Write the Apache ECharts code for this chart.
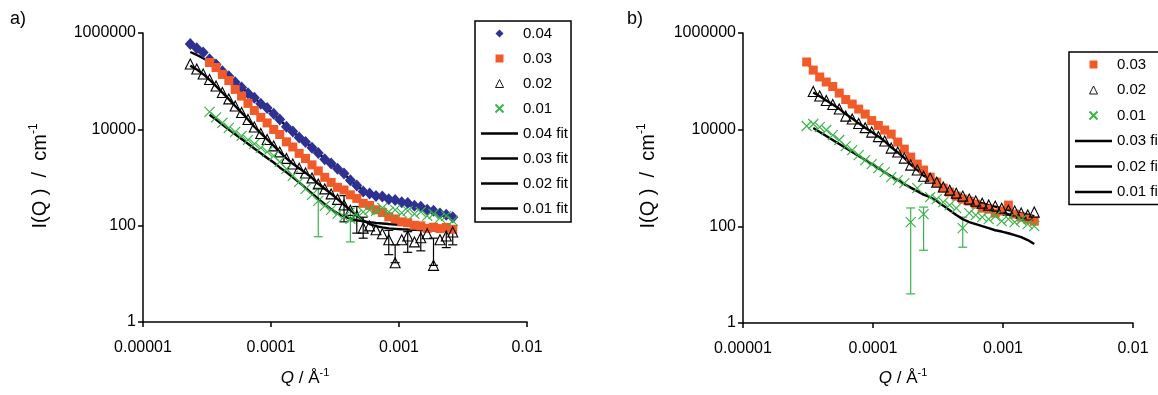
<!DOCTYPE html>
<html><head><meta charset="utf-8">
<script src="https://cdn.jsdelivr.net/npm/echarts@6/dist/echarts.min.js"></script>
<style>html,body{margin:0;padding:0;background:#fff}#c{width:1158px;height:395px}</style>
</head><body><div id="c"></div>
<script>
// ---------- DATA ----------
const xTickLabels = ['0.00001', '0.0001', '0.001', '0.01'];
const yTickLabels = ['1', '', '100', '', '10000', '', '1000000'];

// panel a Q grid
const qA = [2.34e-5,2.63e-5,2.95e-5,3.31e-5,3.72e-5,4.17e-5,4.68e-5,5.25e-5,5.89e-5,6.61e-5,7.41e-5,8.32e-5,9.33e-5,1.05e-4,1.17e-4,1.32e-4,1.48e-4,1.66e-4,1.86e-4,2.09e-4,2.34e-4,2.63e-4,2.95e-4,3.31e-4,3.72e-4,4.17e-4,4.68e-4,5.25e-4,5.89e-4,6.61e-4,7.41e-4,8.32e-4,9.33e-4,1.05e-3,1.17e-3,1.32e-3,1.48e-3,1.66e-3,1.86e-3,2.09e-3,2.34e-3,2.63e-3];
const a04 = [592000,480000,392000,285000,221000,160000,127000,94500,73500,56000,45500,33800,27600,21000,16000,11300,9000,6800,5450,4150,3220,2390,1950,1520,1210,875,685,515,468,412,404,352,342,305,296,258,246,213,203,178,168,149];
const a03 = [244000,192000,138000,103000,67500,49000,34600,24600,17700,13600,9950,7800,5500,4300,3170,2480,1830,1370,1010,790,625,550,437,368,291,263,214,188,153,138,120,115,102,99,88,93,87,92,84];
const a02 = [228000,179000,141000,108000,79400,58300,42800,30600,22400,16000,11200,8220,6170,4530,3400,2490,1910,1550,1240,982,736,580,457,352,270,208,160,89,99,82,68,51,17,51,61,46,56,68,15,51,61,74];
const a01 = [23000,17700,13600,10700,8830,7300,6030,4980,4110,3400,2810,2110,1510,1080,811,580,436,327,258,213,176,152,138,167,193,213,203,234,193,213,184,203,176,193,160,176,145,160,126];
const a04fit = [403000,350000,300000,255000,210000,165000,127000,97000,73000,57000,44500,34500,27000,21000,15800,11700,8900,6900,5350,4200,3200,2450,1920,1520,1180,900,680,535,450,410,385,355,330,305,285,262,240,218,200,182,166,152];
const a03fit = [230000,180000,138000,100000,70000,49000,35000,24500,18000,13300,10000,7600,5600,4200,3220,2430,1860,1360,1030,780,640,540,445,362,298,258,220,186,158,137,124,113,105,98,93,91,90,89,88];
const a02fit = [210000,175000,140000,107000,79000,58000,42500,30500,22200,16000,11300,8300,6200,4550,3400,2500,1920,1550,1250,985,740,585,460,355,272,210,162,128,108,98,92,88,86,84,83,82,81,80,80,79,79,78];
const a01fit = [20000,16000,12500,9900,7900,6300,5000,4000,3200,2550,2050,1620,1280,1010,790,610,470,360,280,220,180,155,140,130,123,118,114,111,108,106,104,102,100,99,98,97,96,95,94];
// error bars: [Q, low, high]
const aErr02 = [[3.72e-4,120,420],[4.68e-4,70,250],[5.25e-4,55,150],[8.32e-4,25,80],[9.33e-4,17,40],[1.17e-3,28,75],[1.48e-3,30,80],[1.86e-3,15,55],[2.34e-3,35,90],[2.63e-3,40,100]];
const aErr01 = [[2.34e-4,59,600],[4.17e-4,46,230]];

// panel b Q grid
const qB = [3.09e-5,3.47e-5,3.89e-5,4.37e-5,4.90e-5,5.50e-5,6.17e-5,6.92e-5,7.76e-5,8.71e-5,9.77e-5,1.10e-4,1.23e-4,1.38e-4,1.55e-4,1.74e-4,1.95e-4,2.19e-4,2.45e-4,2.75e-4,3.09e-4,3.47e-4,3.89e-4,4.37e-4,4.90e-4,5.50e-4,6.17e-4,6.92e-4,7.76e-4,8.71e-4,9.77e-4,1.10e-3,1.23e-3,1.38e-3,1.55e-3,1.74e-3];
const b03 = [251000,171000,123000,96800,78000,57300,42000,33900,26700,21000,15400,12200,9820,8110,5540,3960,2710,1940,1460,1040,822,618,511,422,366,333,288,238,227,188,207,275,179,155,141,128];
const b02 = [61500,49600,40000,33100,26700,19100,16600,13400,11000,8910,7190,5810,4160,3440,2580,1850,1460,1090,995,822,649,561,486,422,366,333,302,275,262,238,216,207,188,171,197];
const b01 = [11900,13100,11300,9820,7730,6100,4570,3780,2980,2350,1940,1600,1320,1040,906,784,122,618,179,403,366,317,275,238,92,188,171,155,141,163,128,141,122,135,111,101];
const b03fit = [240000,175000,127000,96000,76000,58000,43000,34000,27000,21000,15800,12200,9800,7600,5600,3950,2750,1950,1450,1050,820,625,510,425,365,330,290,250,225,205,190,178,168,158,148,138];
const b02fit = [59000,49000,40000,33000,27000,21000,17000,13500,11000,8900,7200,5800,4300,3400,2600,1900,1470,1120,960,810,650,560,485,425,370,330,300,275,255,235,218,202,188,175,163];
const b01fit = [10800,8910,7370,6100,5040,4160,3440,2840,2350,1940,1600,1320,1090,906,748,632,535,453,403,333,268,216,171,141,122,111,101,92,83,78,72,66,60,52,43];
const bErr01 = [[1.95e-4,4,240],[2.45e-4,32,250],[4.90e-4,37,155]];

// ---------- STYLE ----------
const FONT = "'Liberation Sans', Arial, sans-serif";
const BLUE = '#2E3192', ORANGE = '#F15A29', GREEN = '#3AB54A', BLACK = '#000';
const XPATH = 'path://M0,0L10,10M10,0L0,10';
const LINE_ICON = 'path://M0,0L37,0L37,2.4L0,2.4Z';

function pts(q, v, off) { return v.map((y, i) => [q[i + off], y]); }

const markStyle = {
  '0.04': { symbol: 'diamond', symbolSize: [11, 12], itemStyle: { color: BLUE } },
  '0.03': { symbol: 'rect', symbolSize: 9, itemStyle: { color: ORANGE } },
  '0.02': { symbol: 'triangle', symbolSize: 10, itemStyle: { color: 'rgba(255,255,255,0)', borderColor: BLACK, borderWidth: 1.1 } },
  '0.01': { symbol: XPATH, symbolSize: 10, itemStyle: { color: 'rgba(255,255,255,0)', borderColor: GREEN, borderWidth: 1.2 } }
};

function markSeries(name, data, ax, z) {
  const s = markStyle[name];
  return {
    type: 'line', name, data, xAxisIndex: ax, yAxisIndex: ax,
    symbol: s.symbol, symbolSize: s.symbolSize, itemStyle: s.itemStyle,
    showSymbol: true, showAllSymbol: true,
    lineStyle: { opacity: 0, width: 1 }, z, silent: true
  };
}
function fitSeries(name, data, ax) {
  return {
    type: 'line', name, data, xAxisIndex: ax, yAxisIndex: ax,
    symbol: 'none', showSymbol: false,
    lineStyle: { color: BLACK, width: 2.4 }, itemStyle: { color: BLACK }, z: 1, silent: true
  };
}
function errSeries(data, ax, color) {
  return {
    type: 'custom', data, xAxisIndex: ax, yAxisIndex: ax, z: 1, silent: true,
    encode: { x: 0, y: [1, 2] },
    renderItem: function (params, api) {
      const lo = api.coord([api.value(0), api.value(1)]);
      const hi = api.coord([api.value(0), api.value(2)]);
      const w = 4.5;
      const st = { stroke: color, lineWidth: 1.2 };
      return { type: 'group', children: [
        { type: 'line', shape: { x1: lo[0], y1: lo[1], x2: hi[0], y2: hi[1] }, style: st },
        { type: 'line', shape: { x1: lo[0] - w, y1: lo[1], x2: lo[0] + w, y2: lo[1] }, style: st },
        { type: 'line', shape: { x1: hi[0] - w, y1: hi[1], x2: hi[0] + w, y2: hi[1] }, style: st }
      ] };
    }
  };
}

function xAxis(gi) {
  return {
    type: 'log', gridIndex: gi, min: 1e-5, max: 1e-2, interval: 1, logBase: 10,
    axisLine: { show: true, lineStyle: { color: BLACK, width: 1.5 } },
    axisTick: { show: true, inside: false, length: 5, lineStyle: { color: BLACK, width: 1.5 } },
    minorTick: { show: false }, splitLine: { show: false },
    axisLabel: { margin: 18, fontFamily: FONT, fontSize: 16, color: BLACK,
      formatter: v => xTickLabels[Math.round(Math.log10(v)) + 5] }
  };
}
function yAxis(gi) {
  return {
    type: 'log', gridIndex: gi, min: 1, max: 1e6, interval: 2, logBase: 10,
    axisLine: { show: true, onZero: false, lineStyle: { color: BLACK, width: 1.5 } },
    axisTick: { show: true, inside: false, length: 5, lineStyle: { color: BLACK, width: 1.5 } },
    minorTick: { show: false }, splitLine: { show: false },
    axisLabel: { margin: 7, fontFamily: FONT, fontSize: 16, color: BLACK,
      formatter: v => yTickLabels[Math.round(Math.log10(v))] }
  };
}

const legendBase = {
  orient: 'vertical', itemWidth: 37, itemHeight: 10, itemGap: 10,
  borderColor: BLACK, borderWidth: 1.5, backgroundColor: '#fff', borderRadius: 0,
  selectedMode: false, align: 'left',
  textStyle: { fontFamily: FONT, fontSize: 15, color: BLACK, lineHeight: 15 }
};
function legendData(names) {
  return names.map(n => n.indexOf('fit') > 0 ? { name: n, icon: LINE_ICON }
    : (n === '0.02' ? { name: n, itemStyle: { borderWidth: 0.9 } } : { name: n }));
}

const titleRich = {
  n: { fontFamily: FONT, fontSize: 17, lineHeight: 22, color: BLACK },
  i: { fontFamily: FONT, fontSize: 17, lineHeight: 22, fontStyle: 'italic', color: BLACK },
  s: { fontFamily: FONT, fontSize: 11, lineHeight: 12, verticalAlign: 'top', color: BLACK },
  ny: { fontFamily: FONT, fontSize: 20, lineHeight: 24, color: BLACK },
  sy: { fontFamily: FONT, fontSize: 12, lineHeight: 13, verticalAlign: 'top', color: BLACK }
};
function textEl(x, y, text, rot) {
  return { type: 'text', x, y, rotation: rot || 0, silent: true,
    style: { text, rich: titleRich, fill: BLACK, font: '17px ' + FONT,
      textAlign: 'center', textVerticalAlign: 'middle', align: 'center', verticalAlign: 'middle' } };
}

const option = {
  animation: false,
  backgroundColor: '#fff',
  grid: [
    { left: 143, top: 33, width: 384, height: 289 },
    { left: 743, top: 33, width: 390, height: 290 }
  ],
  xAxis: [xAxis(0), xAxis(1)],
  yAxis: [yAxis(0), yAxis(1)],
  legend: [
    Object.assign({}, legendBase, { left: 475, top: 21, padding: [5, 3, 6, 5],
      data: legendData(['0.04', '0.03', '0.02', '0.01', '0.04 fit', '0.03 fit', '0.02 fit', '0.01 fit']) }),
    Object.assign({}, legendBase, { left: 1069, top: 52, padding: [5, 3, 5, 5], itemGap: 10.5,
      data: legendData(['0.03', '0.02', '0.01', '0.03 fit', '0.02 fit', '0.01 fit']) })
  ],
  graphic: [
    { type: 'text', left: 10, top: 10, silent: true, style: { text: 'a)', font: '18px ' + FONT, fill: BLACK } },
    { type: 'text', left: 627, top: 10, silent: true, style: { text: 'b)', font: '18px ' + FONT, fill: BLACK } },
    textEl(40, 176, '{ny|I(Q )  /  cm}{sy|-1}', Math.PI / 2),
    textEl(648, 176, '{ny|I(Q )  /  cm}{sy|-1}', Math.PI / 2),
    textEl(305, 378, '{i|Q}{n| / Å}{s|-1}'),
    textEl(903, 378, '{i|Q}{n| / Å}{s|-1}')
  ],
  series: [
    // panel a
    fitSeries('0.04 fit', pts(qA, a04fit, 0), 0),
    fitSeries('0.03 fit', pts(qA, a03fit, 3), 0),
    fitSeries('0.02 fit', pts(qA, a02fit, 0), 0),
    fitSeries('0.01 fit', pts(qA, a01fit, 3), 0),
    errSeries(aErr02, 0, BLACK),
    errSeries(aErr01, 0, GREEN),
    markSeries('0.04', pts(qA, a04, 0), 0, 2),
    markSeries('0.03', pts(qA, a03, 3), 0, 3),
    markSeries('0.02', pts(qA, a02, 0), 0, 4),
    markSeries('0.01', pts(qA, a01, 3), 0, 5),
    // panel b
    fitSeries('0.03 fit', pts(qB, b03fit, 0), 1),
    fitSeries('0.02 fit', pts(qB, b02fit, 1), 1),
    fitSeries('0.01 fit', pts(qB, b01fit, 1), 1),
    errSeries(bErr01, 1, GREEN),
    markSeries('0.03', pts(qB, b03, 0), 1, 3),
    markSeries('0.02', pts(qB, b02, 1), 1, 4),
    markSeries('0.01', pts(qB, b01, 0), 1, 5)
  ]
};

const chart = echarts.init(document.getElementById('c'), null, { renderer: 'canvas' });
chart.setOption(option);
</script>
</body></html>
